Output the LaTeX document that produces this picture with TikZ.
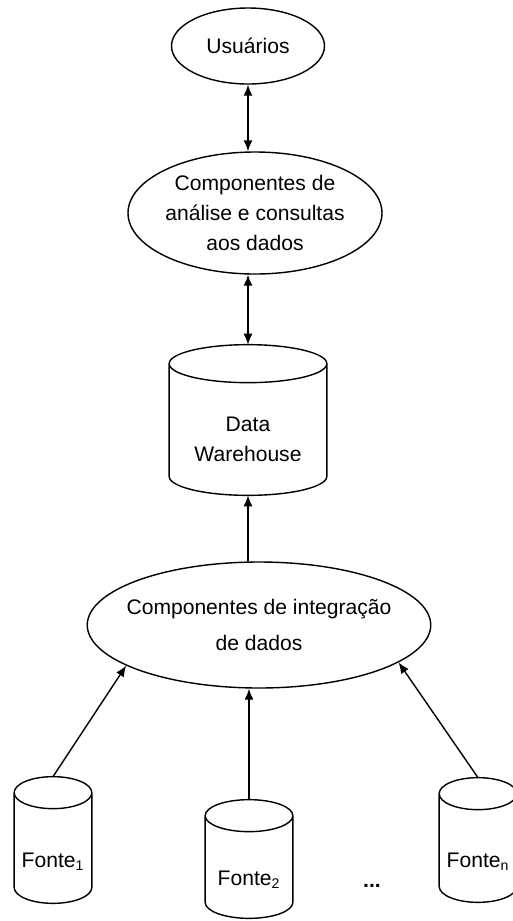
\documentclass[tikz,border=0pt]{standalone}
\usepackage{fontspec}
\setmainfont{Liberation Sans}
\usetikzlibrary{shapes.geometric,arrows.meta,calc}

\newcommand\pxu{0.02cm}
\tikzset{
  linha/.style={line width=0.8pt},
  elipse/.style={linha, draw, ellipse, inner sep=0pt, align=center},
  tambor/.style={inner sep=0pt},
  rotulo/.style={align=center, yshift=#1*\pxu},
}

\begin{document}
\begin{tikzpicture}[x=\pxu,y=-\pxu,>={Latex[length=2.2mm,width=1.8mm]},
    font=\fontsize{12}{17}\selectfont]
  \useasboundingbox (0,0) rectangle (512,921);
  % camadas de cima
  \node[elipse,minimum width=153*\pxu,minimum height=76*\pxu] (usuarios) at (248,46) {Usuários};
  \node[elipse,minimum width=254*\pxu,minimum height=122*\pxu] (analise) at (255,213)
    {Componentes de\\análise e consultas\\aos dados};
  \node[tambor,minimum width=157*\pxu,minimum height=150*\pxu,
    label={[rotulo=-19]center:Data\\Warehouse}] (dw) at (248,420) {};
  \node[elipse,inner xsep=-11*\pxu,minimum width=342*\pxu,minimum height=126*\pxu] (integ) at (259,625)
    {Componentes de integração\\[4pt]de dados};
  % fontes
  \node[tambor,minimum width=77*\pxu,minimum height=126*\pxu,
    label={[rotulo=-22]center:Fonte\textsubscript{1}}] (f1) at (53,840) {};
  \node[tambor,minimum width=87*\pxu,minimum height=118*\pxu,
    label={[rotulo=-21]center:Fonte\textsubscript{2}}] (f2) at (249,859) {};
  \node[tambor,minimum width=77*\pxu,minimum height=124*\pxu,
    label={[rotulo=-22]center:Fonte\textsubscript{n}}] (fn) at (478,840) {};
  \node (dots) at (372,886) {\textbf{...}};
  % contorno dos cilindros
  \foreach \c/\r in {dw/19,f1/16,f2/16,fn/16}
    \draw[linha] let \p1=(\c.north west), \p2=(\c.south east),
        \n1={(\x2-\x1)/2}, \n2={\r*0.02cm} in
      ({\x1+\n1},{\y1-\n2}) ellipse[x radius=\n1, y radius=\n2]
      (\x1,{\y1-\n2}) -- (\x1,{\y2+\n2})
        arc[start angle=180, end angle=360, x radius=\n1, y radius=\n2]
        -- (\x2,{\y1-\n2});
  % setas
  \draw[linha,<->] (usuarios.south) -- (usuarios.south |- analise.north);
  \draw[linha,<->] (dw.north |- analise.south) -- (dw.north);
  \draw[linha,<-] (dw.south) -- (dw.south |- integ.north);
  \draw[linha,->] (f1.north) -- (integ.197);
  \draw[linha,->] (f2.north) -- (f2.north |- integ.south);
  \draw[linha,->] (fn.north) -- (integ.345);
\end{tikzpicture}
\end{document}
